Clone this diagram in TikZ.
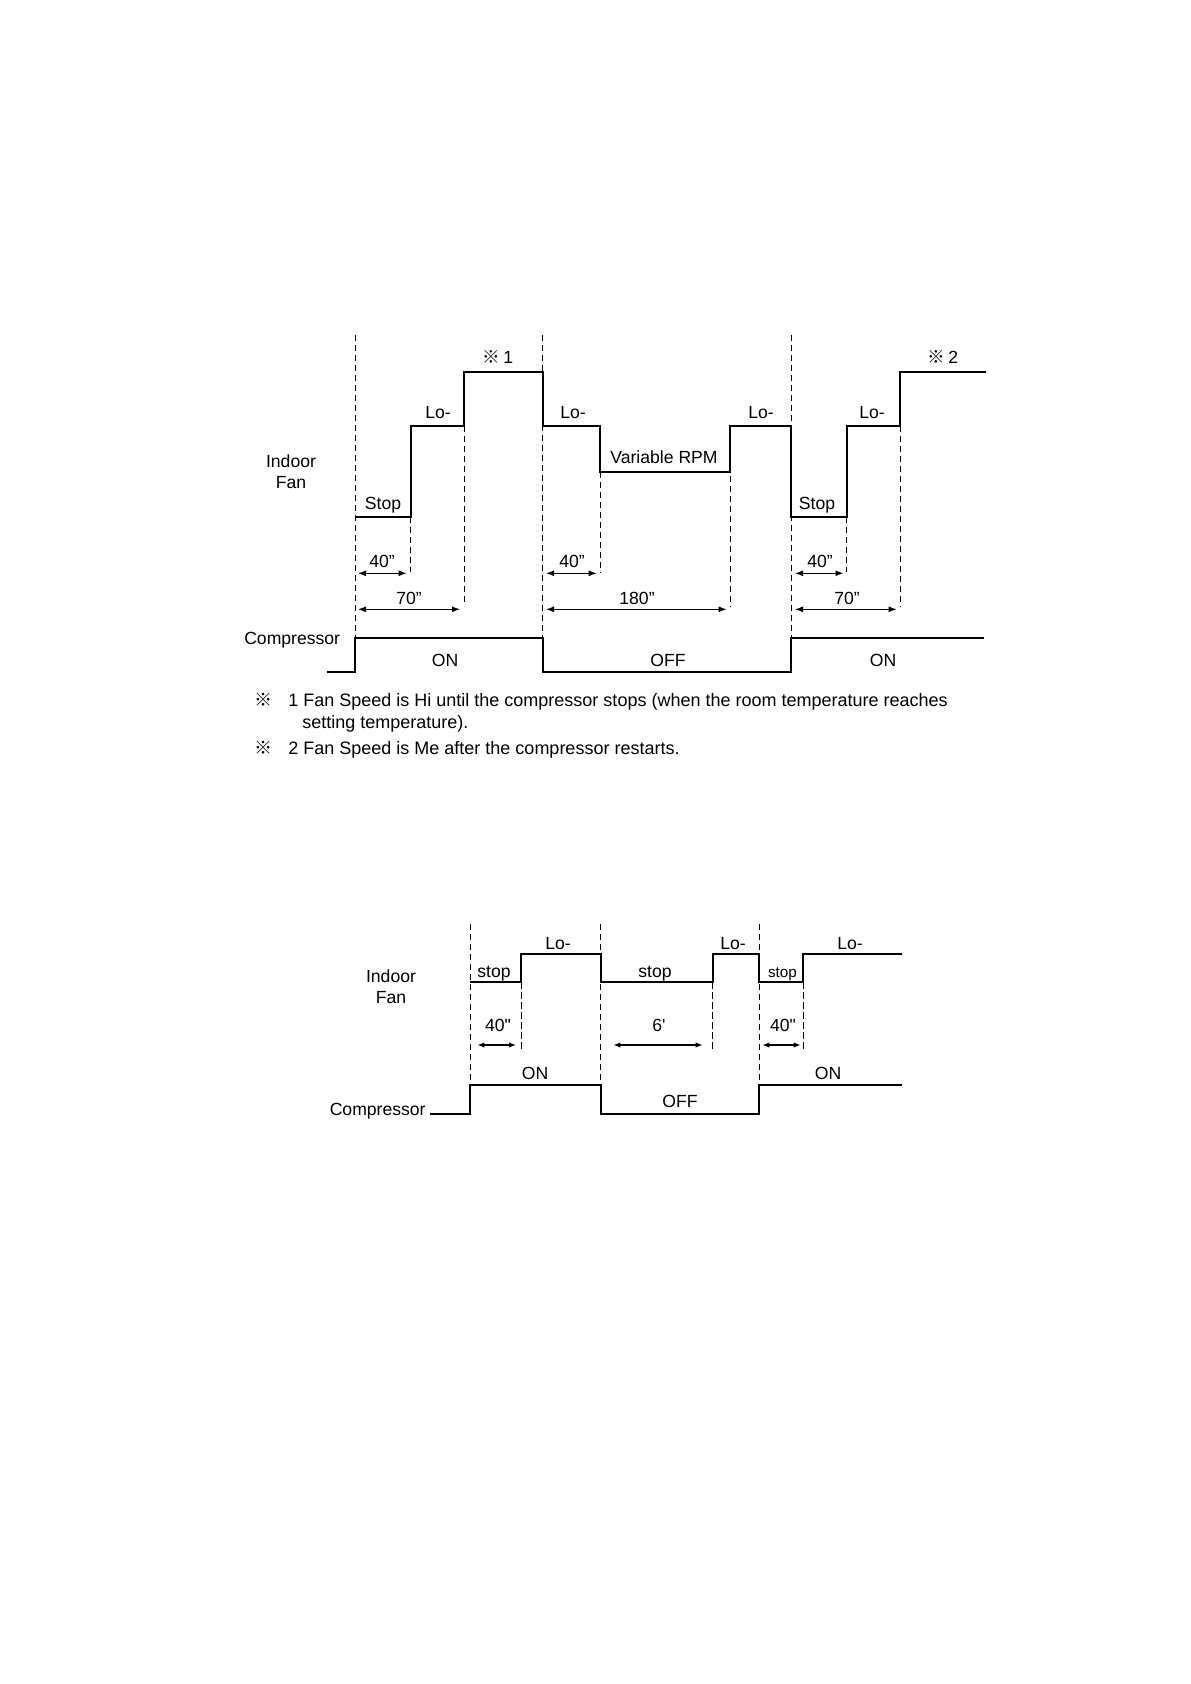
\documentclass[tikz,border=0pt]{standalone}
\usepackage{fontspec}
\setmainfont{Liberation Sans}
\newfontfamily\cjk{Noto Sans CJK JP}
\usetikzlibrary{arrows.meta}
\begin{document}
\begin{tikzpicture}[x=0.5pt,y=-0.5pt,
  sig/.style={line width=0.9pt, line join=miter},
  guide/.style={line width=0.5pt, dash pattern=on 3.2pt off 1.8pt},
  dimarrow/.style={line width=0.6pt, {Latex[length=4pt,width=3pt]}-{Latex[length=4pt,width=3pt]}},
  dimsmall/.style={line width=0.55pt, {Latex[length=3.5pt,width=2.6pt]}-{Latex[length=3.5pt,width=2.6pt]}},
  lbl/.style={font=\fontsize{8.8}{10.5}\selectfont, inner sep=0pt, anchor=base},
  two/.style={font=\fontsize{8.8}{10.3}\selectfont, inner sep=0pt, align=center},
  note/.style={font=\fontsize{9}{11}\selectfont, inner sep=0pt, anchor=base west},
  ]
\useasboundingbox (0,0) rectangle (1190,1684);

% ================= TOP DIAGRAM =================
% indoor fan signal
\draw[sig] (355,517) -- (410.7,517) -- (410.7,426) -- (464,426) -- (464,371.7)
  -- (542.7,371.7) -- (542.7,426) -- (600,426) -- (600,471.7) -- (730,471.7)
  -- (730,426) -- (791,426) -- (791,517) -- (846.7,517) -- (846.7,426)
  -- (900,426) -- (900,371.7) -- (986,371.7);
% compressor signal
\draw[sig] (326.7,671.7) -- (355,671.7) -- (355,638.3) -- (542.7,638.3)
  -- (542.7,671.7) -- (791,671.7) -- (791,638.3) -- (984,638.3);
% guide lines
\draw[guide] (355,335) -- (355,638.3);
\draw[guide] (542.7,335) -- (542.7,638.3);
\draw[guide] (791,335) -- (791,638.3);
\draw[guide] (410.7,517) -- (410.7,572);
\draw[guide] (464,426) -- (464,606);
\draw[guide] (600,471.7) -- (600,573);
\draw[guide] (730,426) -- (730,606.7);
\draw[guide] (846.7,517) -- (846.7,572);
\draw[guide] (900,426) -- (900,606.7);
% dimension arrows
\coordinate (a1s) at (358,573.3);   \coordinate (a1e) at (406.7,573.3);
\coordinate (a2s) at (358,609.3);   \coordinate (a2e) at (460,609.3);
\coordinate (a3s) at (546,573.3);   \coordinate (a3e) at (596.7,573.3);
\coordinate (a4s) at (546,609.3);   \coordinate (a4e) at (726.7,609.3);
\coordinate (a5s) at (795,573.3);   \coordinate (a5e) at (843.5,573.3);
\coordinate (a6s) at (795,609.3);   \coordinate (a6e) at (896.7,609.3);
\draw[dimarrow] (a1s) -- (a1e);
\draw[dimarrow] (a2s) -- (a2e);
\draw[dimarrow] (a3s) -- (a3e);
\draw[dimarrow] (a4s) -- (a4e);
\draw[dimarrow] (a5s) -- (a5e);
\draw[dimarrow] (a6s) -- (a6e);
% labels
\node[lbl] (m1) at (498,363.5) {{\cjk ※}\hspace{1.5pt}1};
\node[lbl] (m2) at (943,363.5) {{\cjk ※}\hspace{1.5pt}2};
\node[lbl] (lo1) at (438,418.5) {Lo-};
\node[lbl] (lo2) at (573,418.5) {Lo-};
\node[lbl] (lo3) at (761,418.5) {Lo-};
\node[lbl] (lo4) at (872,418.5) {Lo-};
\node[two] (fanT) at (291,472) {Indoor\\Fan};
\node[lbl] (st1) at (383,509) {Stop};
\node[lbl] (st2) at (817,509) {Stop};
\node[lbl] (var) at (664,463.5) {Variable RPM};
\node[lbl] (t1) at (382,567.5) {40”};
\node[lbl] (t2) at (572,567.5) {40”};
\node[lbl] (t3) at (820,567.5) {40”};
\node[lbl] (t4) at (409,604.5) {70”};
\node[lbl] (t5) at (637,604.5) {180”};
\node[lbl] (t6) at (847,604.5) {70”};
\node[lbl,anchor=base east] (compT) at (340.5,644.5) {Compressor};
\node[lbl] (on1) at (445,666.5) {ON};
\node[lbl] (off1) at (668,666.5) {OFF};
\node[lbl] (on2) at (883,666.5) {ON};

% footnotes
\node[note,anchor=base] (r1) at (263,706.5) {\cjk ※};
\node[note] (n1) at (288,706.5) {1 Fan Speed is Hi until the compressor stops (when the room temperature reaches};
\node[note] (n1b) at (302,728.5) {setting temperature).};
\node[note,anchor=base] (r2) at (263,754) {\cjk ※};
\node[note] (n2) at (288,754) {2 Fan Speed is Me after the compressor restarts.};

% ================= BOTTOM DIAGRAM =================
\draw[sig] (470,982.3) -- (521,982.3) -- (521,954.3) -- (600.7,954.3)
  -- (600.7,982.3) -- (712.7,982.3) -- (712.7,954.3) -- (759.3,954.3)
  -- (759.3,982.3) -- (803.3,982.3) -- (803.3,954.3) -- (901.7,954.3);
\draw[sig] (430,1114) -- (470,1114) -- (470,1085) -- (600.7,1085)
  -- (600.7,1114) -- (759.3,1114) -- (759.3,1085) -- (901.7,1085);
\draw[guide] (470,924) -- (470,1085);
\draw[guide] (600.7,924) -- (600.7,1085);
\draw[guide] (759.3,924) -- (759.3,1085);
\draw[guide] (521,982.3) -- (521,1050);
\draw[guide] (712.7,982.3) -- (712.7,1050);
\draw[guide] (803.3,982.3) -- (803.3,1050);
\coordinate (b1s) at (477.3,1045); \coordinate (b1e) at (516,1045);
\coordinate (b2s) at (613.3,1045); \coordinate (b2e) at (702.7,1045);
\coordinate (b3s) at (762.3,1045); \coordinate (b3e) at (800.7,1045);
\draw[dimsmall] (b1s) -- (b1e);
\draw[dimsmall] (b2s) -- (b2e);
\draw[dimsmall] (b3s) -- (b3e);
\node[two] (fanB) at (391,987) {Indoor\\Fan};
\node[lbl] (bs1) at (494,977) {stop};
\node[lbl] (bs2) at (655,977) {stop};
\node[lbl,font=\fontsize{7.6}{9}\selectfont] (bs3) at (782.5,977) {stop};
\node[lbl] (bl1) at (558,949.5) {Lo-};
\node[lbl] (bl2) at (733,949.5) {Lo-};
\node[lbl] (bl3) at (850,949.5) {Lo-};
\node[lbl] (bt1) at (498,1031.5) {40\textquotedbl};
\node[lbl] (bt2) at (659,1031.5) {6\textquotesingle};
\node[lbl] (bt3) at (783,1031.5) {40\textquotedbl};
\node[lbl] (bon1) at (535,1079.5) {ON};
\node[lbl] (boff) at (680,1107.5) {OFF};
\node[lbl] (bon2) at (828,1079.5) {ON};
\node[lbl,anchor=base east] (compB) at (426,1115.5) {Compressor};
\end{tikzpicture}
\end{document}
